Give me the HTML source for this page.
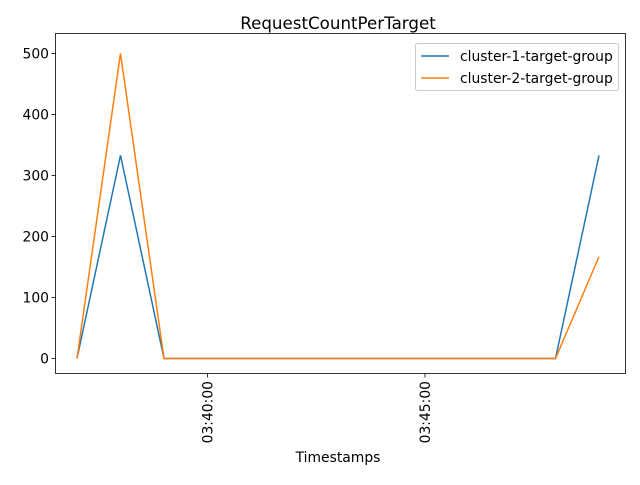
<!DOCTYPE html>
<html><head><meta charset="utf-8"><style>
body{margin:0;background:#fff;}
svg text{font-family:"DejaVu Sans","Liberation Sans",sans-serif;fill:#000;}
</style></head><body>
<svg id="chart" width="640" height="480" xmlns="http://www.w3.org/2000/svg">
<rect x="0" y="0" width="640" height="480" fill="#fff"/>
<text x="338" y="29" font-size="16.7" text-anchor="middle">RequestCountPerTarget</text>
<g id="plot"></g>
<rect x="55.5" y="33.5" width="570" height="340" fill="none" stroke="#000" stroke-width="0.8"/>
<text x="338" y="462" font-size="13.9" text-anchor="middle">Timestamps</text>
<g>
<rect x="415.5" y="43.5" width="203" height="47" rx="2" fill="#fff" fill-opacity="0.8" stroke="#ccc"/>
<line x1="421" y1="56" x2="449" y2="56" stroke="#1f77b4" stroke-width="1.5"/>
<text x="460" y="61" font-size="13.9">cluster-1-target-group</text>
<line x1="421" y1="78" x2="449" y2="78" stroke="#ff7f0e" stroke-width="1.5"/>
<text x="460" y="83" font-size="13.9">cluster-2-target-group</text>
</g>
</svg>
<script>
const minutes = [37,38,39,40,41,42,43,44,45,46,47,48,49];
const cluster1 = [0,333,0,0,0,0,0,0,0,0,0,0,333];
const cluster2 = [0,500,0,0,0,0,0,0,0,0,0,0,167];
const yTicks = [0,100,200,300,400,500];
const xTickMinutes = [40,45];
const xTickLabels = ["03:40:00","03:45:00"];
const NS="http://www.w3.org/2000/svg";
const g=document.getElementById('plot');
function xs(m){return 77+(m-37)*43.5;}
function ys(v){return 358.5-v*0.61;}
function mk(t,a){const e=document.createElementNS(NS,t);for(const k in a)e.setAttribute(k,a[k]);g.appendChild(e);return e;}
yTicks.forEach(v=>{
  const l=mk('line',{x1:51.5,x2:55.5,y1:ys(v),y2:ys(v),stroke:'#000','stroke-width':0.8});
  
  
  const t=mk('text',{x:49,y:ys(v)+5,'font-size':13.9,'text-anchor':'end'});
  t.textContent=v;
  
  
});
xTickMinutes.forEach((m,i)=>{
  const x=xs(m);
  const l=mk('line',{x1:x,x2:x,y1:373.5,y2:377.5,stroke:'#000','stroke-width':0.8});
  
  
  const t=mk('text',{x:0,y:0,'font-size':13.9,'text-anchor':'end',transform:`translate(${x+5},381) rotate(-90)`});
  t.textContent=xTickLabels[i];
  
  
});
[[cluster1,'#1f77b4','line-cluster-1'],[cluster2,'#ff7f0e','line-cluster-2']].forEach(([d,c,n])=>{
  const p=mk('polyline',{points:d.map((v,i)=>xs(minutes[i])+','+ys(v)).join(' '),fill:'none',stroke:c,'stroke-width':1.5});
  
  
});
</script>
</body></html>
